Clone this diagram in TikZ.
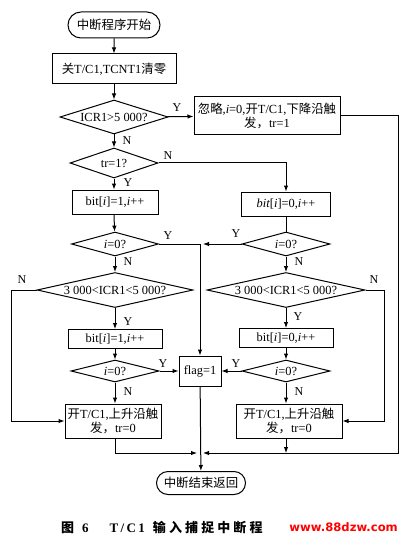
\documentclass[tikz,border=0pt]{standalone}
\usepackage{fontspec}
\setmainfont{Liberation Serif}
\newfontfamily\cjk{Noto Sans CJK SC}
\newfontfamily\cjkcap[LetterSpace=24]{Noto Sans CJK SC}
\newfontfamily\capserif[LetterSpace=18]{Liberation Serif}
\newfontfamily\wmfont{DejaVu Sans}
\usetikzlibrary{shapes.geometric,shapes.misc,arrows.meta}
\newcommand{\zh}[1]{{\cjk #1}}
\begin{document}
\begin{tikzpicture}[
        x=1pt, y=-1pt,
        every node/.style={font=\fontsize{12.4}{14.5}\selectfont},
        line/.style={draw, line width=1pt},
        flow/.style={line, -{Latex[length=6pt,width=4.5pt]}},
        terminal/.style={rounded rectangle, draw, line width=1pt, inner sep=2pt},
        proc/.style={rectangle, draw, line width=1pt, inner sep=2pt, align=center},
        test/.style={diamond, draw, line width=1pt, inner sep=0pt, aspect=4.5},
        lbl/.style={inner sep=0pt, font=\fontsize{12}{14}\selectfont}
    ]
    \useasboundingbox (0,0) rectangle (406,540);
    \node[terminal, minimum width=96pt, minimum height=26pt] (start) at (114,25) {\zh{中断程序开始}};
    \node[proc, minimum width=124pt, minimum height=30pt] (clear) at (114,69) {\zh{关}T/C1,TCNT1\zh{清零}};
    \node[test, minimum width=108pt, minimum height=34pt] (big) at (114,117) {ICR1>5 000?};
    \node[proc, minimum width=146pt, minimum height=38pt] (ignore) at (267,116)
        {\zh{忽略},\textit{i}=0,\zh{开}T/C1,\zh{下降沿触}\\\zh{发，}tr=1};
    \node[test, minimum width=88pt, minimum height=30pt, aspect=4] (trig) at (114,163) {tr=1?};
    \node[proc, minimum width=86pt, minimum height=24pt] (oneA) at (115,202) {bit[\textit{i}]=1,\textit{i}++};
    \node[proc, minimum width=89pt, minimum height=24pt] (zeroA) at (286,204) {\textit{bit}[\textit{i}]=0,\textit{i}++};
    \node[test, minimum width=87pt, minimum height=24pt] (endL1) at (115,244) {\textit{i}=0?};
    \node[test, minimum width=88pt, minimum height=24pt] (endR1) at (286,244) {\textit{i}=0?};
    \node[test, minimum width=156pt, minimum height=35pt] (winL) at (115,290) {3 000<ICR1<5 000?};
    \node[test, minimum width=158pt, minimum height=35pt] (winR) at (286,290) {3 000<ICR1<5 000?};
    \node[proc, minimum width=94pt, minimum height=19pt] (oneB) at (115,339) {bit[\textit{i}]=1,\textit{i}++};
    \node[proc, minimum width=94pt, minimum height=19pt] (zeroB) at (286,338) {bit[\textit{i}]=0,\textit{i}++};
    \node[test, minimum width=88pt, minimum height=22pt] (endL2) at (115,371) {\textit{i}=0?};
    \node[proc, minimum width=42pt, minimum height=30pt] (flag) at (200,371) {flag=1};
    \node[test, minimum width=88pt, minimum height=22pt] (endR2) at (286,371) {\textit{i}=0?};
    \node[proc, minimum width=96pt, minimum height=34pt] (riseL) at (113,421)
        {\zh{开}T/C1,\zh{上升沿触}\\\zh{发，}tr=0};
    \node[proc, minimum width=106pt, minimum height=34pt] (riseR) at (289,421)
        {\zh{开}T/C1,\zh{上升沿触}\\\zh{发，}tr=0};
    \node[terminal, minimum width=93pt, minimum height=23pt] (stop) at (201,483) {\zh{中断结束返回}};
    \coordinate (join) at (200,244);
    \coordinate (merge) at (200,453);

    \draw[flow] (start) -- (clear);
    \draw[flow] (clear) -- (big);
    \draw[flow] (big) -- (ignore);
    \draw[flow] (big) -- (trig);
    \draw[flow] (trig) -- (trig |- oneA.north);
    \draw[flow] (trig.east) -| (zeroA.north);
    \draw[flow] (trig |- oneA.south) -- (endL1);
    \draw[line] (zeroA) -- (endR1);
    \draw[flow] (endL1.east) -| (flag.north);
    \draw[flow] (endR1.west) -- ([xshift=3pt]join);
    \draw[flow] (endL1) -- (winL);
    \draw[flow] (endR1) -- (winR);
    \draw[flow] (winL.west) -- ++(-25,0) |- (riseL.west);
    \draw[flow] (winR.east) -- ++(19,0) |- (riseR.east);
    \draw[flow] (winL) -- (oneB);
    \draw[flow] (winR) -- (zeroB);
    \draw[flow] (oneB) -- (endL2);
    \draw[flow] (zeroB) -- (endR2);
    \draw[flow] (endL2) -- (flag);
    \draw[flow] (endR2) -- (flag);
    \draw[flow] (endL2) -- (endL2 |- riseL.north);
    \draw[flow] (endR2) -- (endR2 |- riseR.north);
    \draw[flow] (endL2 |- riseL.south) |- ([xshift=-3pt]merge);
    \draw[flow] (endR2 |- riseR.south) -- (endR2 |- merge);
    \draw[flow] (ignore.east) -- ++(58,0) |- ([xshift=3pt]merge);
    \draw[flow] (flag) -- (stop);

    \node[lbl] at (177,108) {Y};
    \node[lbl] at (127,141) {N};
    \node[lbl] at (168,156) {N};
    \node[lbl] at (128,183) {Y};
    \node[lbl] at (168,236) {Y};
    \node[lbl] at (236,234) {Y};
    \node[lbl] at (128,262) {N};
    \node[lbl] at (299,262) {N};
    \node[lbl] at (22,280) {N};
    \node[lbl] at (374,280) {N};
    \node[lbl] at (128,322) {Y};
    \node[lbl] at (298,317) {Y};
    \node[lbl] at (163,364) {Y};
    \node[lbl] at (236,364) {Y};
    \node[lbl] at (128,392) {N};
    \node[lbl] at (299,392) {N};

    \node[anchor=west, inner sep=0pt, font=\fontsize{13}{15}\selectfont\bfseries] (caption) at (61,528)
        {{\cjk 图}\hspace{8pt}6\hspace{21pt}{\capserif T/C1}\hspace{8pt}{\cjkcap 输入捕捉中断程}};
    \node[anchor=east, inner sep=0pt, text=red, font=\fontsize{11.6}{13}\selectfont\wmfont\bfseries] (mark) at (398,527)
        {www.88dzw.com};
\end{tikzpicture}
\end{document}
